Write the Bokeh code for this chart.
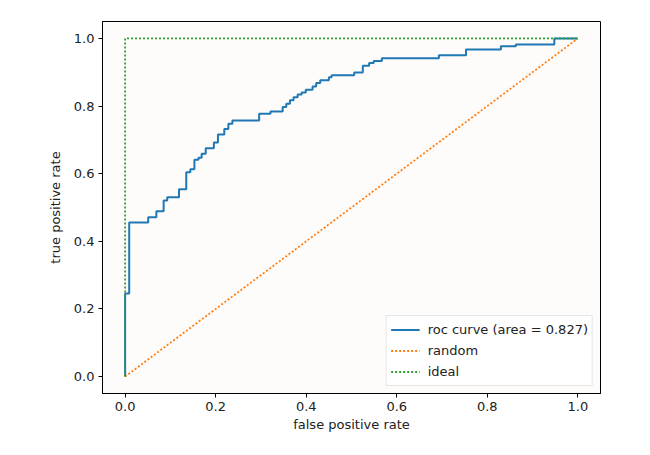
from bokeh.plotting import figure
from bokeh.models import FixedTicker, Legend, LegendItem
from bokeh.embed import file_html
from bokeh.resources import INLINE

# ROC curve vertices (false positive rate, true positive rate)
fpr = [0.0, 0.0, 0.009, 0.009, 0.051, 0.051, 0.069, 0.069, 0.085, 0.085,
       0.093, 0.093, 0.119, 0.119, 0.135, 0.135, 0.144, 0.144, 0.153, 0.153,
       0.162, 0.162, 0.169, 0.169, 0.178, 0.178, 0.196, 0.196, 0.205, 0.205,
       0.219, 0.219, 0.228, 0.228, 0.237, 0.237, 0.296, 0.296, 0.321, 0.321,
       0.348, 0.348, 0.356, 0.356, 0.364, 0.364, 0.372, 0.372, 0.381, 0.381,
       0.390, 0.390, 0.399, 0.399, 0.414, 0.414, 0.422, 0.422, 0.431, 0.431,
       0.450, 0.450, 0.456, 0.456, 0.506, 0.506, 0.525, 0.525, 0.539, 0.539,
       0.549, 0.549, 0.567, 0.567, 0.693, 0.693, 0.753, 0.753, 0.830, 0.830,
       0.863, 0.863, 0.948, 0.948, 1.0]
tpr = [0.0, 0.246, 0.246, 0.456, 0.456, 0.471, 0.471, 0.489, 0.489, 0.521,
       0.521, 0.530, 0.530, 0.554, 0.554, 0.604, 0.604, 0.613, 0.613, 0.641,
       0.641, 0.647, 0.647, 0.659, 0.659, 0.675, 0.675, 0.692, 0.692, 0.716,
       0.716, 0.732, 0.732, 0.748, 0.748, 0.757, 0.757, 0.777, 0.777, 0.784,
       0.784, 0.797, 0.797, 0.807, 0.807, 0.817, 0.817, 0.826, 0.826, 0.834,
       0.834, 0.840, 0.840, 0.848, 0.848, 0.858, 0.858, 0.868, 0.868, 0.876,
       0.876, 0.885, 0.885, 0.891, 0.891, 0.899, 0.899, 0.919, 0.919, 0.927,
       0.927, 0.933, 0.933, 0.941, 0.941, 0.950, 0.950, 0.967, 0.967, 0.977,
       0.977, 0.982, 0.982, 1.0, 1.0]

random_x = [0.0, 1.0]
random_y = [0.0, 1.0]
ideal_x = [0.0, 0.0, 1.0]
ideal_y = [0.0, 1.0, 1.0]

roc_label = "roc curve (area = 0.827)"
tick_values = [0.0, 0.2, 0.4, 0.6, 0.8, 1.0]

FONT = "DejaVu Sans"

p = figure(width=634, height=439, output_backend="svg", toolbar_location=None,
           x_range=(-0.05, 1.05), y_range=(-0.05, 1.05),
           min_border_left=102, min_border_right=34,
           min_border_top=21, min_border_bottom=46)
p.background_fill_color = "#fefcfa"
p.border_fill_color = "white"
p.outline_line_color = "black"
p.outline_line_width = 1
p.grid.visible = False

r1 = p.line(fpr, tpr, line_color="#1f77b4", line_width=2)
r2 = p.line(random_x, random_y, line_color="#ff7f0e", line_width=1.8, line_dash="2 2")
r3 = p.line(ideal_x, ideal_y, line_color="#2ca02c", line_width=1.8, line_dash="2 2")

for ax in (p.xaxis[0], p.yaxis[0]):
    ax.ticker = FixedTicker(ticks=tick_values)
    ax.major_label_overrides = {v: f"{v:.1f}" for v in tick_values}
    ax.minor_tick_line_color = None
    ax.major_tick_out = 4
    ax.major_tick_in = 0
    ax.major_tick_line_color = "black"
    ax.axis_line_color = "black"
    ax.major_label_text_font = FONT
    ax.major_label_text_font_size = "13px"
    ax.major_label_text_color = "#222222"
    ax.axis_label_text_font = FONT
    ax.axis_label_text_font_size = "13px"
    ax.axis_label_text_font_style = "normal"
    ax.axis_label_text_color = "#222222"
    ax.major_label_standoff = 4

p.xaxis.axis_label = "false positive rate"
p.yaxis.axis_label = "true positive rate"
p.xaxis.axis_label_standoff = 3
p.yaxis.axis_label_standoff = 8

legend = Legend(items=[LegendItem(label=roc_label, renderers=[r1]),
                       LegendItem(label="random", renderers=[r2]),
                       LegendItem(label="ideal", renderers=[r3])],
                location="bottom_right")
legend.margin = 7
legend.padding = 4
legend.spacing = 2
legend.label_text_font = FONT
legend.label_text_font_size = "13px"
legend.label_text_color = "#222222"
legend.label_height = 19
legend.glyph_height = 19
legend.glyph_width = 29
legend.label_standoff = 8
legend.border_line_color = "#cccccc"
legend.background_fill_alpha = 0.85
p.add_layout(legend)

open("out.html", "w").write(file_html(p, INLINE))
